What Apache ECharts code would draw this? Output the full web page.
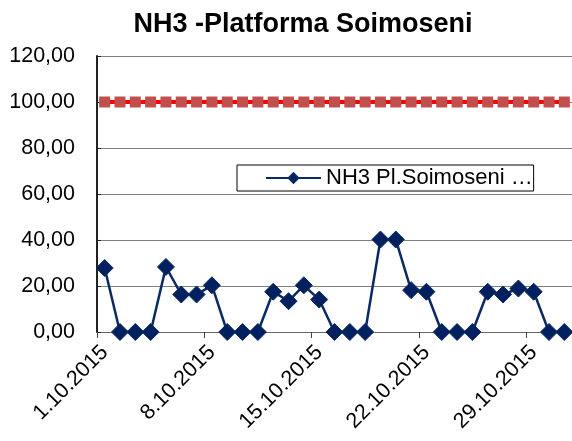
<!DOCTYPE html>
<html>
<head>
<meta charset="utf-8">
<script src="https://cdn.jsdelivr.net/npm/echarts@6/dist/echarts.min.js"></script>
<style>html,body{margin:0;padding:0;background:#fff}#c{width:572px;height:441px}</style>
</head>
<body>
<div id="c"></div>
<script>
var categories = ["1.10.2015","2.10.2015","3.10.2015","4.10.2015","5.10.2015","6.10.2015","7.10.2015","8.10.2015","9.10.2015","10.10.2015","11.10.2015","12.10.2015","13.10.2015","14.10.2015","15.10.2015","16.10.2015","17.10.2015","18.10.2015","19.10.2015","20.10.2015","21.10.2015","22.10.2015","23.10.2015","24.10.2015","25.10.2015","26.10.2015","27.10.2015","28.10.2015","29.10.2015","30.10.2015","31.10.2015"];
var nh3Values = [27.8,0,0,0,28.3,16.3,16.3,20.3,0,0,0,17.5,13.4,20.3,14.1,0,0,0,40.2,40.2,18.2,17.5,0,0,0,17.5,16.3,18.9,17.5,0,0];
var limitValues = [100,100,100,100,100,100,100,100,100,100,100,100,100,100,100,100,100,100,100,100,100,100,100,100,100,100,100,100,100,100,100];
var seriesName = "NH3 Pl.Soimoseni \u2026";
var titleText = "NH3 -Platforma Soimoseni";

var chart = echarts.init(document.getElementById('c'), null, {renderer:'canvas'});
chart.setOption({
  animation: false,
  backgroundColor: '#ffffff',
  textStyle: {fontFamily: 'Liberation Sans, Arial, sans-serif'},
  title: {
    text: titleText, left: 298, top: 6, textAlign: 'center',
    textStyle: {fontSize: 27, fontWeight: 'bold', color: '#000', fontFamily: 'Liberation Sans, Arial, sans-serif'}
  },
  legend: {
    data: [seriesName],
    left: 237, top: 165,
    padding: [2, 1, 2, 28],
    borderColor: '#000', borderWidth: 1, borderRadius: 0,
    backgroundColor: '#fff',
    itemWidth: 55, itemHeight: 12,
    textStyle: {fontSize: 22, color: '#000', fontFamily: 'Liberation Sans, Arial, sans-serif'}
  },
  grid: {left: 97, right: 0, top: 56, bottom: 109, containLabel: false},
  xAxis: {
    type: 'category', data: categories, boundaryGap: true,
    axisLine: {lineStyle: {color: '#666', width: 1}},
    axisTick: {show: true, interval: 6, length: 6, lineStyle: {color: '#444'}},
    axisLabel: {interval: 6, rotate: 45, fontSize: 21.5, color: '#000', margin: 17,
      fontFamily: 'Liberation Sans, Arial, sans-serif'},
    splitLine: {show: false}
  },
  yAxis: {
    type: 'value', min: 0, max: 120, interval: 20,
    axisLine: {show: true, lineStyle: {color: '#222', width: 2}},
    axisTick: {show: true, inside: true, length: 4, lineStyle: {color: '#222'}},
    axisLabel: {fontSize: 21.5, color: '#000', margin: 22,
      fontFamily: 'Liberation Sans, Arial, sans-serif',
      formatter: function(v){ return v.toFixed(2).replace('.', ','); }},
    splitLine: {show: true, lineStyle: {color: '#808080', width: 1}}
  },
  series: [
    {
      name: 'Limita', type: 'line', data: limitValues,
      symbol: 'rect', symbolSize: 11, showSymbol: true, showAllSymbol: true,
      lineStyle: {color: '#ff0000', width: 4},
      itemStyle: {color: '#C0504D', borderWidth: 0},
      z: 2
    },
    {
      name: seriesName, type: 'line', data: nh3Values,
      symbol: 'diamond', symbolSize: 17, showSymbol: true, showAllSymbol: true,
      lineStyle: {color: '#0B2A62', width: 2.5},
      itemStyle: {color: '#00205F', borderColor: '#0B2A62', borderWidth: 1},
      z: 3
    }
  ]
});
</script>
</body>
</html>
